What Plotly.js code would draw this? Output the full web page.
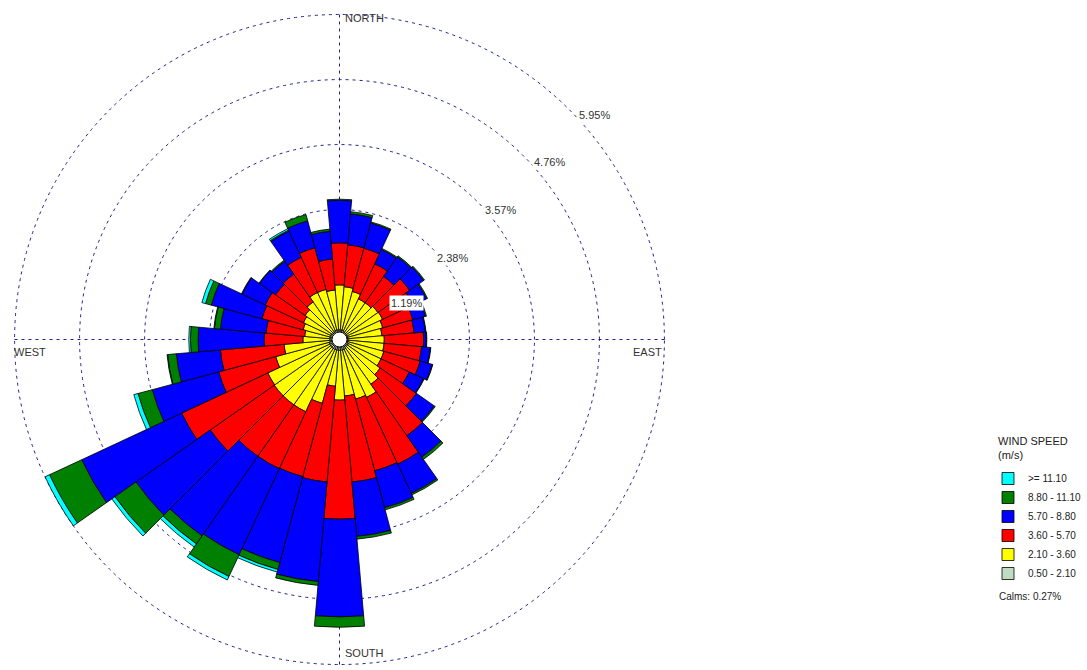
<!DOCTYPE html>
<html>
<head>
<meta charset="utf-8">
<script src="https://cdn.plot.ly/plotly-3.0.1.min.js"></script>
<style>html,body{margin:0;padding:0;background:#fff;}#chart{width:1087px;height:670px;}</style>
</head>
<body>
<div id="chart"></div>
<script>
// Direction (degrees, bearing of bar centre)
var directions = [0,10,20,30,40,50,60,70,80,90,100,110,120,130,140,150,160,170,180,190,200,210,220,230,240,250,260,270,280,290,300,310,320,330,340,350];

// Frequency (%) of each wind speed class per direction
var speed_050_210 = [0.18,0.18,0.18,0.16,0.16,0.16,0.16,0.16,0.16,0.16,0.16,0.16,0.18,0.18,0.18,0.20,0.20,0.20,0.20,0.20,0.20,0.20,0.20,0.20,0.20,0.20,0.18,0.18,0.18,0.18,0.18,0.18,0.18,0.18,0.18,0.18];
var speed_210_360 = [0.82,0.79,0.73,0.66,0.66,0.70,0.71,0.66,0.62,0.66,0.66,0.68,0.66,0.73,0.82,0.97,0.93,0.84,0.91,0.66,1.01,1.26,1.26,1.26,1.25,1.01,0.84,0.49,0.46,0.51,0.55,0.59,0.66,0.77,0.77,0.73];
var speed_360_570 = [0.77,0.77,0.82,0.71,0.59,0.71,0.62,0.57,0.59,0.72,0.69,0.69,0.57,0.81,1.15,1.35,1.36,1.58,2.18,1.76,1.39,1.15,1.15,1.43,1.74,1.08,1.17,0.71,0.71,0.78,0.77,0.66,0.62,0.71,0.79,0.57];
var speed_570_880 = [0.78,0.57,0.48,0.29,0.44,0.31,0.27,0.24,0.21,0.05,0.16,0.23,0.29,0.40,0.48,0.59,0.70,1.00,1.79,1.83,1.63,1.74,1.78,1.66,2.02,1.26,0.81,1.21,0.84,0.96,0.47,0.36,0.29,0.53,0.51,0.51];
var speed_880_1110 = [0.02,0.04,0.02,0.02,0.02,0.02,0.02,0.02,0.01,0.01,0.01,0.01,0.01,0.02,0.05,0.03,0.04,0.05,0.19,0.07,0.13,0.44,0.18,0.47,0.65,0.27,0.16,0.14,0.11,0.11,0.01,0.01,0.02,0.02,0.12,0.04];
var speed_1110_up = [0,0,0,0,0,0,0,0,0,0,0,0,0,0,0,0,0,0,0,0,0.05,0.07,0.07,0.07,0.09,0.08,0.01,0.03,0.01,0.07,0,0,0,0.03,0,0];

var classNames = ["0.50 - 2.10","2.10 - 3.60","3.60 - 5.70","5.70 - 8.80","8.80 - 11.10",">= 11.10"];
var classColors = ["#c0dcc0","#ffff00","#ff0000","#0000ff","#008000","#00ffff"];
var classValues = [speed_050_210, speed_210_360, speed_360_570, speed_570_880, speed_880_1110, speed_1110_up];

var ringValues = [1.19, 2.38, 3.57, 4.76, 5.95];
var ringLabels = ["1.19%", "2.38%", "3.57%", "4.76%", "5.95%"];
var compassLabels = ["NORTH", "EAST", "SOUTH", "WEST"];
var legendTitle = "WIND SPEED<br>(m/s)";
var calmsText = "Calms: 0.27%";

// where the ring labels sit (radius in %, bearing in degrees)
var ringLabelR = [1.10, 2.27, 3.51, 4.76, 5.96];
var ringLabelBearing = [52.7, 48.9, 47.4, 47, 46.4];

var fontFam = 'Liberation Sans, Arial, sans-serif';

var traces = classValues.map(function (vals, i) {
  return {
    type: 'barpolar',
    r: vals,
    theta: directions,
    name: classNames[i],
    width: 10,
    marker: {color: classColors[i], line: {color: '#000000', width: 0.8}},
    hoverinfo: 'skip'
  };
});
// calm circle at the centre
traces.push({
  type: 'scatterpolar', mode: 'markers', r: [0], theta: [0], showlegend: false, hoverinfo: 'skip',
  marker: {size: 15, color: '#ffffff', line: {color: '#000000', width: 1}}
});

var gridCol = '#20208c';
var cx = 339.5, cy = 339.5, R = 326, W = 1087, H = 670, rMax = 5.97;

// map a (radius %, bearing) pair to paper coordinates of the polar subplot
function toPaper(r, bearing) {
  var a = bearing * Math.PI / 180, d = R * r / rMax;
  return {x: (cx + d * Math.sin(a) + 2) / W, y: 1 - (cy - d * Math.cos(a)) / H};
}

var annotations = [
  {text: compassLabels[0], x: 343 / W, y: 1 - 18.5 / H, xanchor: 'left', yanchor: 'middle'},
  {text: compassLabels[1], x: 664 / W, y: 1 - 352 / H, xanchor: 'right', yanchor: 'middle'},
  {text: compassLabels[2], x: 343 / W, y: 1 - 653 / H, xanchor: 'left', yanchor: 'middle'},
  {text: compassLabels[3], x: 12 / W, y: 1 - 352 / H, xanchor: 'left', yanchor: 'middle'},
  {text: legendTitle, x: 996 / W, y: 1 - 433 / H, xanchor: 'left', yanchor: 'top', align: 'left', font: {size: 11, color: '#222222'}},
  {text: calmsText, x: 997 / W, y: 1 - 596 / H, xanchor: 'left', yanchor: 'middle', font: {size: 10, color: '#222222'}}
];
ringLabels.forEach(function (t, i) {
  var p = toPaper(ringLabelR[i], ringLabelBearing[i]);
  annotations.push({text: t, x: p.x, y: p.y, xanchor: 'left', yanchor: 'middle',
    bgcolor: '#ffffff', borderpad: 1, font: {size: 11, color: '#333333'}});
});
annotations.forEach(function (a) {
  a.xref = 'paper'; a.yref = 'paper'; a.showarrow = false;
  if (!a.font) a.font = {size: 11, color: '#333333'};
});

var layout = {
  width: W, height: H,
  margin: {l: 0, r: 0, t: 0, b: 0},
  paper_bgcolor: '#ffffff',
  showlegend: true,
  font: {family: fontFam, size: 11, color: '#333333'},
  polar: {
    domain: {x: [(cx - R) / W, (cx + R) / W], y: [(H - cy - R) / H, (H - cy + R) / H]},
    bgcolor: 'rgba(0,0,0,0)',
    bargap: 0,
    barmode: 'stack',
    radialaxis: {
      range: [0, rMax], tickmode: 'array', tickvals: ringValues,
      showticklabels: false, showline: false, ticks: '',
      gridcolor: gridCol, gridwidth: 1, griddash: '3px,4px', layer: 'above traces'
    },
    angularaxis: {
      direction: 'clockwise', rotation: 90, tickmode: 'array', tickvals: [0, 90, 180, 270],
      showticklabels: false, ticks: '', showline: false,
      gridcolor: gridCol, gridwidth: 1, griddash: '3px,4px', layer: 'above traces'
    }
  },
  legend: {
    x: 988 / W, y: 1 - 464 / H, xanchor: 'left', yanchor: 'top',
    traceorder: 'reversed', font: {family: fontFam, size: 10, color: '#222222'},
    itemclick: false, itemdoubleclick: false, tracegroupgap: 0
  },
  annotations: annotations
};

Plotly.newPlot('chart', traces, layout, {staticPlot: true, displayModeBar: false});
</script>
</body>
</html>
